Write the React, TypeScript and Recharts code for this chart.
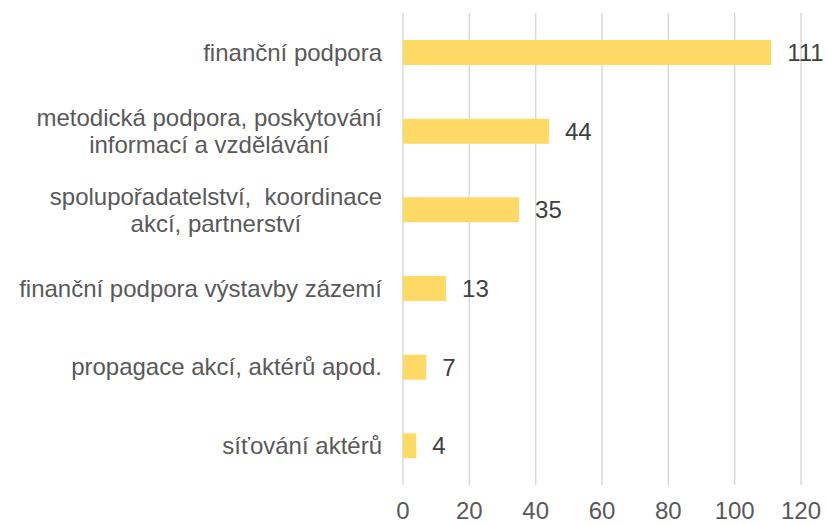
import React from "react";
import { BarChart, Bar, XAxis, YAxis, CartesianGrid, LabelList } from "recharts";

const categories = [
  "finanční podpora",
  "metodická podpora, poskytování\ninformací a vzdělávání",
  "spolupořadatelství,  koordinace\nakcí, partnerství",
  "finanční podpora výstavby zázemí",
  "propagace akcí, aktérů apod.",
  "síťování aktérů",
];
const values = [111, 44, 35, 13, 7, 4];
const xTicks = [0, 20, 40, 60, 80, 100, 120];

const data = categories.map((c, i) => ({ name: c, value: values[i] }));

const FONT = '"Liberation Sans", Arial, sans-serif';
const FONT_SIZE = 24;

let ctx: CanvasRenderingContext2D | null = null;
function measure(t: string): number {
  if (!ctx) {
    const c = document.createElement("canvas");
    ctx = c.getContext("2d");
  }
  if (!ctx) return t.length * FONT_SIZE * 0.5;
  ctx.font = `${FONT_SIZE}px "Liberation Sans", Arial, sans-serif`;
  return ctx.measureText(t).width;
}

const CatTick = (props: any) => {
  const { x, y, payload } = props;
  const lines: string[] = String(payload.value).split("\n");
  const lineH = 27;
  const maxW = Math.max(...lines.map(measure));
  const cx = x - maxW / 2;
  return (
    <g>
      {lines.map((l, i) => (
        <text
          key={i}
          x={cx}
          y={y + (i - (lines.length - 1) / 2) * lineH}
          dy="0.35em"
          textAnchor="middle"
          fill="#595959"
          fontSize={FONT_SIZE}
          fontFamily={FONT}
          style={{ whiteSpace: "pre" }}
        >
          {l}
        </text>
      ))}
    </g>
  );
};

export default function App() {
  return (
    <div style={{ position: "absolute", left: 0, top: 0 }}>
      <BarChart
        width={827}
        height={525}
        data={data}
        layout="vertical"
        margin={{ top: 13, right: 26, bottom: 0, left: 0 }}
      >
        <CartesianGrid horizontal={false} vertical={true} stroke="#d9d9d9" strokeWidth={1.5} />
        <XAxis
          type="number"
          domain={[0, 120]}
          ticks={xTicks}
          axisLine={false}
          tickLine={false}
          tickSize={0}
          tickMargin={17}
          height={40}
          interval={0}
          tick={{ fill: "#595959", fontSize: FONT_SIZE, fontFamily: FONT }}
        />
        <YAxis
          type="category"
          dataKey="name"
          width={403}
          axisLine={false}
          tickLine={false}
          tickSize={0}
          tickMargin={21}
          interval={0}
          tick={<CatTick />}
        />
        <Bar dataKey="value" fill="#FFD966" barSize={25} isAnimationActive={false}>
          <LabelList
            dataKey="value"
            position="right"
            offset={16}
            fill="#404040"
            fontSize={FONT_SIZE}
            fontFamily={FONT}
          />
        </Bar>
      </BarChart>
    </div>
  );
}
